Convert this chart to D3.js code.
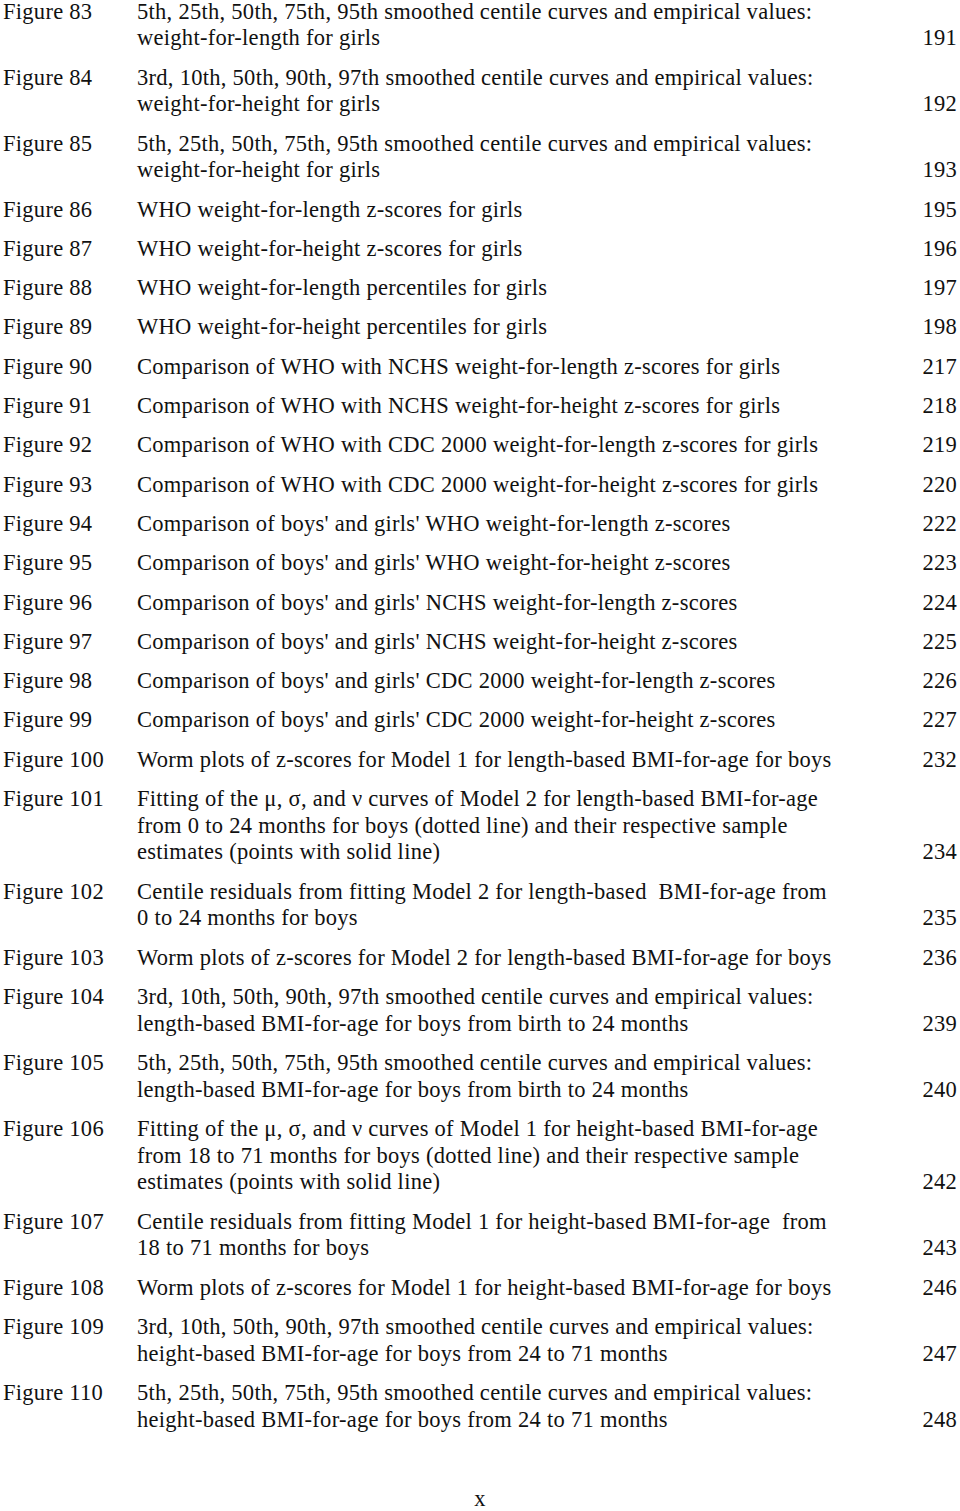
<!DOCTYPE html>
<html>
<head>
<meta charset="utf-8">
<script src="https://cdn.jsdelivr.net/npm/d3@7"></script>
<style>
  html, body { margin: 0; padding: 0; background: #fff; }
  svg text { font-family: "Liberation Serif", "Times New Roman", serif; font-size: 22.5px; letter-spacing: 0.28px; fill: #111; white-space: pre; }
</style>
</head>
<body>
<div id="toc"></div>
<script>
// List of figures entries
const figureLabels = [
    "Figure 83", "Figure 84", "Figure 85", "Figure 86", "Figure 87", "Figure 88", "Figure 89",
    "Figure 90", "Figure 91", "Figure 92", "Figure 93", "Figure 94", "Figure 95", "Figure 96",
    "Figure 97", "Figure 98", "Figure 99", "Figure 100", "Figure 101", "Figure 102", "Figure 103",
    "Figure 104", "Figure 105", "Figure 106", "Figure 107", "Figure 108", "Figure 109", "Figure 110"
];

const figureTitles = [
    ["5th, 25th, 50th, 75th, 95th smoothed centile curves and empirical values:", "weight-for-length for girls"],
    ["3rd, 10th, 50th, 90th, 97th smoothed centile curves and empirical values:", "weight-for-height for girls"],
    ["5th, 25th, 50th, 75th, 95th smoothed centile curves and empirical values:", "weight-for-height for girls"],
    ["WHO weight-for-length z-scores for girls"],
    ["WHO weight-for-height z-scores for girls"],
    ["WHO weight-for-length percentiles for girls"],
    ["WHO weight-for-height percentiles for girls"],
    ["Comparison of WHO with NCHS weight-for-length z-scores for girls"],
    ["Comparison of WHO with NCHS weight-for-height z-scores for girls"],
    ["Comparison of WHO with CDC 2000 weight-for-length z-scores for girls"],
    ["Comparison of WHO with CDC 2000 weight-for-height z-scores for girls"],
    ["Comparison of boys' and girls' WHO weight-for-length z-scores"],
    ["Comparison of boys' and girls' WHO weight-for-height z-scores"],
    ["Comparison of boys' and girls' NCHS weight-for-length z-scores"],
    ["Comparison of boys' and girls' NCHS weight-for-height z-scores"],
    ["Comparison of boys' and girls' CDC 2000 weight-for-length z-scores"],
    ["Comparison of boys' and girls' CDC 2000 weight-for-height z-scores"],
    ["Worm plots of z-scores for Model 1 for length-based BMI-for-age for boys"],
    ["Fitting of the \u03bc, \u03c3, and \u03bd curves of Model 2 for length-based BMI-for-age", "from 0 to 24 months for boys (dotted line) and their respective sample", "estimates (points with solid line)"],
    ["Centile residuals from fitting Model 2 for length-based  BMI-for-age from", "0 to 24 months for boys"],
    ["Worm plots of z-scores for Model 2 for length-based BMI-for-age for boys"],
    ["3rd, 10th, 50th, 90th, 97th smoothed centile curves and empirical values:", "length-based BMI-for-age for boys from birth to 24 months"],
    ["5th, 25th, 50th, 75th, 95th smoothed centile curves and empirical values:", "length-based BMI-for-age for boys from birth to 24 months"],
    ["Fitting of the \u03bc, \u03c3, and \u03bd curves of Model 1 for height-based BMI-for-age", "from 18 to 71 months for boys (dotted line) and their respective sample", "estimates (points with solid line)"],
    ["Centile residuals from fitting Model 1 for height-based BMI-for-age  from", "18 to 71 months for boys"],
    ["Worm plots of z-scores for Model 1 for height-based BMI-for-age for boys"],
    ["3rd, 10th, 50th, 90th, 97th smoothed centile curves and empirical values:", "height-based BMI-for-age for boys from 24 to 71 months"],
    ["5th, 25th, 50th, 75th, 95th smoothed centile curves and empirical values:", "height-based BMI-for-age for boys from 24 to 71 months"]
];

const pageNumbers = [
    "191", "192", "193", "195", "196", "197", "198", "217", "218", "219", "220", "222", "223", "224",
    "225", "226", "227", "232", "234", "235", "236", "239", "240", "242", "243", "246", "247", "248"
];

const folio = "x";

const width = 960, height = 1511;
const lineStep = 26.7;   // between lines of one entry
const entryStep = 39.3;  // from last line of an entry to the next entry

const svg = d3.select("#toc").append("svg")
    .attr("width", width)
    .attr("height", height);

svg.append("rect").attr("width", width).attr("height", height).attr("fill", "#fff");

// lay out entries: each entry's first-line offset
const entries = figureLabels.map((label, i) => ({
    label: label,
    lines: figureTitles[i],
    page: pageNumbers[i]
}));

let acc = 0;
entries.forEach(d => {
    d.top = acc;
    acc += (d.lines.length - 1) * lineStep + entryStep;
});

const y = d3.scaleLinear().domain([0, 1]).range([18.5, 19.5]);
const x = d3.scaleLinear().domain([0, 1]).range([3, 957]);
const titleX = 137;

const g = svg.selectAll("g.entry")
    .data(entries)
    .enter().append("g")
    .attr("class", "entry")
    .attr("transform", d => `translate(0,${y(d.top)})`);

g.append("text")
    .attr("x", x(0))
    .attr("y", 0)
    .text(d => d.label);

g.selectAll("text.title")
    .data(d => d.lines)
    .enter().append("text")
    .attr("class", "title")
    .attr("x", titleX)
    .attr("y", (d, i) => i * lineStep)
    .text(d => d);

g.append("text")
    .attr("x", x(1))
    .attr("y", d => (d.lines.length - 1) * lineStep)
    .attr("text-anchor", "end")
    .text(d => d.page);

svg.append("text")
    .attr("x", width / 2)
    .attr("y", 1506)
    .attr("text-anchor", "middle")
    .text(folio);
</script>
</body>
</html>
